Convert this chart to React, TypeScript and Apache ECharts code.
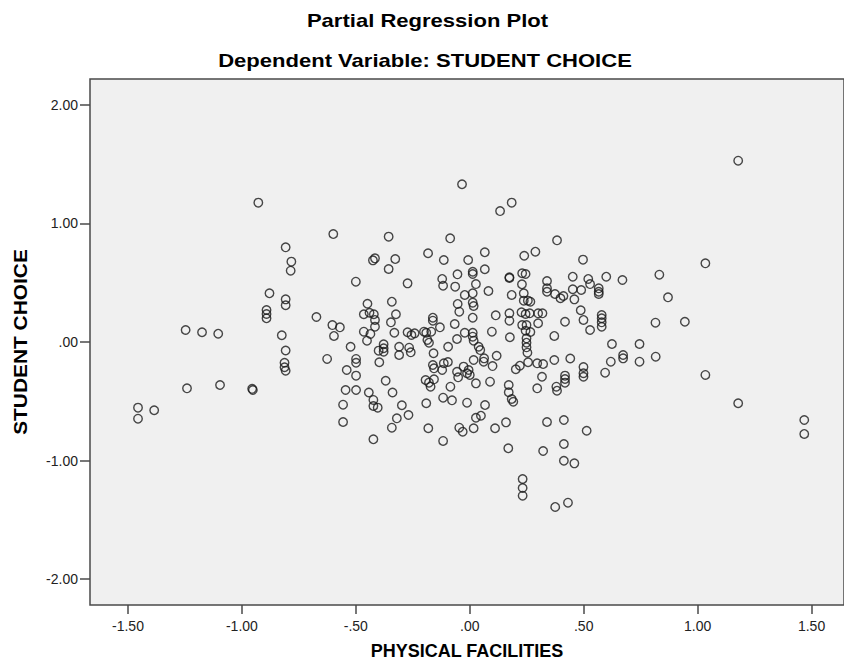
import React, { useEffect, useRef } from "react";
import * as echarts from "echarts";

const titleText = "Partial Regression Plot";
const subtitleText = "Dependent Variable: STUDENT CHOICE";
const xAxisName = "PHYSICAL FACILITIES";
const yAxisName = "STUDENT CHOICE";

const xTicks = [-1.5, -1.0, -0.5, 0, 0.5, 1.0, 1.5];
const yTicks = [-2, -1, 0, 1, 2];

// physical facilities (residual)
const physX = [
  -1.456, -1.456, -1.385, -1.241, -1.247, -1.175, -1.104, -1.096, -0.955, -0.952,
  -0.928, -0.879, -0.892, -0.892, -0.892, -0.808, -0.783, -0.786, -0.808, -0.808,
  -0.825, -0.808, -0.813, -0.813, -0.808, -0.673, -0.626, -0.603, -0.596, -0.599,
  -0.570, -0.556, -0.556, -0.545, -0.540, -0.523, -0.500, -0.499, -0.499, -0.499,
  -0.499, -0.465, -0.465, -0.449, -0.451, -0.440, -0.443, -0.436, -0.425, -0.416,
  -0.421, -0.416, -0.416, -0.423, -0.423, -0.404, -0.423, -0.400, -0.397, -0.378,
  -0.378, -0.378, -0.369, -0.356, -0.356, -0.346, -0.342, -0.342, -0.339, -0.331,
  -0.327, -0.324, -0.320, -0.310, -0.310, -0.298, -0.273, -0.273, -0.269, -0.266,
  -0.259, -0.256, -0.242, -0.201, -0.194, -0.191, -0.191, -0.186, -0.183, -0.182,
  -0.179, -0.179, -0.172, -0.169, -0.162, -0.162, -0.162, -0.159, -0.157, -0.157,
  -0.131, -0.121, -0.117, -0.114, -0.114, -0.121, -0.117, -0.117, -0.096, -0.095,
  -0.086, -0.085, -0.078, -0.066, -0.064, -0.056, -0.056, -0.054, -0.053, -0.051,
  -0.046, -0.046, -0.034, -0.031, -0.027, -0.022, -0.022, -0.012, -0.012, -0.007,
  -0.005, 0.000, 0.013, 0.013, 0.013, 0.013, 0.017, 0.013, 0.013, 0.013,
  0.017, 0.017, 0.017, 0.027, 0.027, 0.027, 0.039, 0.046, 0.049, 0.061,
  0.063, 0.066, 0.066, 0.067, 0.082, 0.089, 0.097, 0.100, 0.111, 0.114,
  0.118, 0.133, 0.159, 0.169, 0.171, 0.171, 0.174, 0.174, 0.174, 0.174,
  0.176, 0.184, 0.184, 0.184, 0.191, 0.202, 0.220, 0.230, 0.245, 0.229,
  0.227, 0.230, 0.232, 0.232, 0.232, 0.237, 0.237, 0.239, 0.245, 0.245,
  0.249, 0.249, 0.249, 0.249, 0.253, 0.255, 0.256, 0.263, 0.266, 0.266,
  0.288, 0.296, 0.296, 0.300, 0.300, 0.317, 0.319, 0.322, 0.322, 0.339,
  0.339, 0.339, 0.339, 0.371, 0.371, 0.374, 0.375, 0.380, 0.383, 0.383,
  0.398, 0.411, 0.413, 0.413, 0.413, 0.418, 0.418, 0.418, 0.418, 0.431,
  0.441, 0.452, 0.452, 0.459, 0.459, 0.489, 0.487, 0.497, 0.499, 0.499,
  0.499, 0.499, 0.513, 0.520, 0.528, 0.528, 0.566, 0.566, 0.566, 0.579,
  0.579, 0.579, 0.579, 0.594, 0.599, 0.619, 0.624, 0.670, 0.673, 0.673,
  0.745, 0.745, 0.815, 0.816, 0.832, 0.870, 0.944, 1.034, 1.034, 1.178,
  1.178, 1.468, 1.468
];

// student choice (residual)
const choiceY = [
  -0.554, -0.647, -0.576, -0.391, 0.101, 0.082, 0.070, -0.363, -0.395, -0.405,
  1.176, 0.411, 0.270, 0.236, 0.200, 0.799, 0.678, 0.602, 0.360, 0.310,
  0.057, -0.072, -0.175, -0.213, -0.242, 0.211, -0.143, 0.143, 0.051, 0.911,
  0.124, -0.529, -0.675, -0.405, -0.236, -0.040, 0.509, -0.143, -0.175, -0.284,
  -0.405, 0.234, 0.087, 0.323, 0.011, 0.247, -0.426, 0.068, 0.689, 0.706,
  0.234, 0.186, 0.129, -0.489, -0.540, -0.554, -0.821, -0.073, -0.171, -0.019,
  -0.053, -0.082, -0.327, 0.889, 0.616, 0.166, 0.340, -0.723, -0.426, 0.078,
  0.700, 0.234, -0.644, -0.040, -0.110, -0.534, 0.495, 0.082, -0.616, -0.048,
  -0.087, 0.059, 0.073, 0.087, -0.321, 0.078, -0.517, 0.017, 0.749, -0.728,
  -0.006, -0.343, -0.377, 0.087, 0.205, 0.180, -0.194, -0.095, -0.222, -0.315,
  0.124, 0.532, 0.475, 0.692, -0.180, -0.236, -0.470, -0.835, -0.169, -0.040,
  0.875, -0.377, -0.492, 0.152, 0.467, 0.025, -0.251, 0.571, 0.321, -0.298,
  0.256, -0.723, 1.331, -0.757, -0.208, 0.397, 0.078, -0.264, -0.512, 0.692,
  -0.236, -0.278, 0.593, 0.574, 0.411, 0.332, 0.304, 0.205, 0.078, 0.045,
  0.011, -0.152, -0.728, 0.489, -0.349, -0.639, -0.040, -0.068, -0.622, -0.166,
  -0.138, 0.757, 0.614, -0.532, 0.430, -0.335, 0.087, -0.203, -0.728, 0.225,
  -0.116, 1.105, -0.678, -0.897, -0.363, -0.424, 0.546, 0.540, 0.242, 0.180,
  0.040, 1.176, 0.397, -0.481, -0.504, -0.230, -0.200, 0.580, 0.574, 0.487,
  0.251, 0.143, -1.156, -1.232, -1.297, 0.411, 0.349, 0.728, 0.236, 0.095,
  0.143, 0.031, -0.006, -0.045, -0.090, 0.349, -0.171, 0.242, 0.340, 0.084,
  0.762, -0.180, -0.391, 0.242, 0.158, -0.293, 0.242, -0.186, -0.920, 0.515,
  0.453, 0.424, -0.675, 0.051, -0.152, 0.405, -1.392, -0.377, -0.411, 0.858,
  0.369, 0.388, -0.658, -0.861, -1.002, 0.171, -0.284, -0.312, -0.343, -1.356,
  -0.139, 0.551, 0.445, -1.024, 0.360, 0.439, 0.268, 0.695, 0.186, -0.211,
  -0.264, -0.293, -0.749, 0.532, 0.489, 0.101, 0.453, 0.424, 0.405, 0.228,
  0.200, 0.166, 0.129, -0.259, 0.551, -0.166, -0.017, 0.523, -0.110, -0.138,
  -0.017, -0.166, 0.163, -0.124, 0.568, 0.377, 0.171, 0.664, -0.278, 1.530,
  -0.517, -0.658, -0.776
];

const fmt = (v: number) => {
  const s = Math.abs(v).toFixed(2).replace(/^0/, "");
  return (v < 0 ? "-" : "") + s;
};

export default function App() {
  const ref = useRef<HTMLDivElement>(null);
  useEffect(() => {
    if (!ref.current) return;
    const chart = echarts.init(ref.current, null, { renderer: "svg" });
    const n = Math.min(physX.length, choiceY.length);
    const pts: number[][] = [];
    for (let i = 0; i < n; i++) pts.push([physX[i], choiceY[i]]);
    const axisColor = "#4a4a4a";
    const labelStyle = {
      fontFamily: '"Liberation Sans", Arial, sans-serif',
      fontSize: 14,
      color: "#222",
    };
    const boldFont = '"Liberation Sans", Arial, sans-serif';
    chart.setOption({
      animation: false,
      backgroundColor: "#ffffff",
      grid: {
        left: 90,
        top: 79,
        width: 760,
        height: 526,
        show: true,
        backgroundColor: "#f0f0f0",
        borderColor: axisColor,
        borderWidth: 1.5,
        containLabel: false,
      },
      xAxis: {
        type: "value",
        position: "bottom",
        min: -1.6667,
        max: 1.6424,
        splitLine: { show: false },
        axisLine: { show: false, onZero: false },
        axisTick: {
          show: true,
          length: 9,
          customValues: xTicks,
          lineStyle: { color: axisColor, width: 1.5 },
        },
        axisLabel: {
          ...labelStyle,
          margin: 14,
          customValues: xTicks,
          formatter: (v: number) => fmt(v),
        },
      },
      yAxis: {
        type: "value",
        position: "left",
        min: -2.2194,
        max: 2.2194,
        splitLine: { show: false },
        axisLine: { show: false, onZero: false },
        axisTick: {
          show: true,
          length: 10,
          customValues: yTicks,
          lineStyle: { color: axisColor, width: 1.5 },
        },
        axisLabel: {
          ...labelStyle,
          margin: 12,
          customValues: yTicks,
          formatter: (v: number) => fmt(v),
        },
      },
      graphic: [
        {
          type: "text",
          x: 427.5,
          y: 20,
          scaleX: 1.16,
          style: {
            text: titleText,
            font: `bold 19px ${boldFont}`,
            fill: "#000",
            textAlign: "center",
            textVerticalAlign: "middle",
          },
        },
        {
          type: "text",
          x: 425,
          y: 60.5,
          scaleX: 1.16,
          style: {
            text: subtitleText,
            font: `bold 19px ${boldFont}`,
            fill: "#000",
            textAlign: "center",
            textVerticalAlign: "middle",
          },
        },
        {
          type: "text",
          x: 467,
          y: 651,
          scaleX: 1.0,
          style: {
            text: xAxisName,
            font: `bold 18px ${boldFont}`,
            fill: "#000",
            textAlign: "center",
            textVerticalAlign: "middle",
          },
        },
        {
          type: "text",
          x: 20.5,
          y: 342,
          rotation: Math.PI / 2,
          scaleX: 1.1,
          style: {
            text: yAxisName,
            font: `bold 19px ${boldFont}`,
            fill: "#000",
            textAlign: "center",
            textVerticalAlign: "middle",
          },
        },
      ],
      series: [
        {
          type: "scatter",
          data: pts,
          symbol: "circle",
          symbolSize: 8.5,
          itemStyle: {
            color: "transparent",
            borderColor: "#1a1a1a",
            borderWidth: 1.4,
          },
          emphasis: { disabled: true },
        },
      ],
    });
    return () => chart.dispose();
  }, []);
  return (
    <div
      ref={ref}
      style={{ position: "absolute", left: 0, top: 0, width: 844, height: 670 }}
    />
  );
}
